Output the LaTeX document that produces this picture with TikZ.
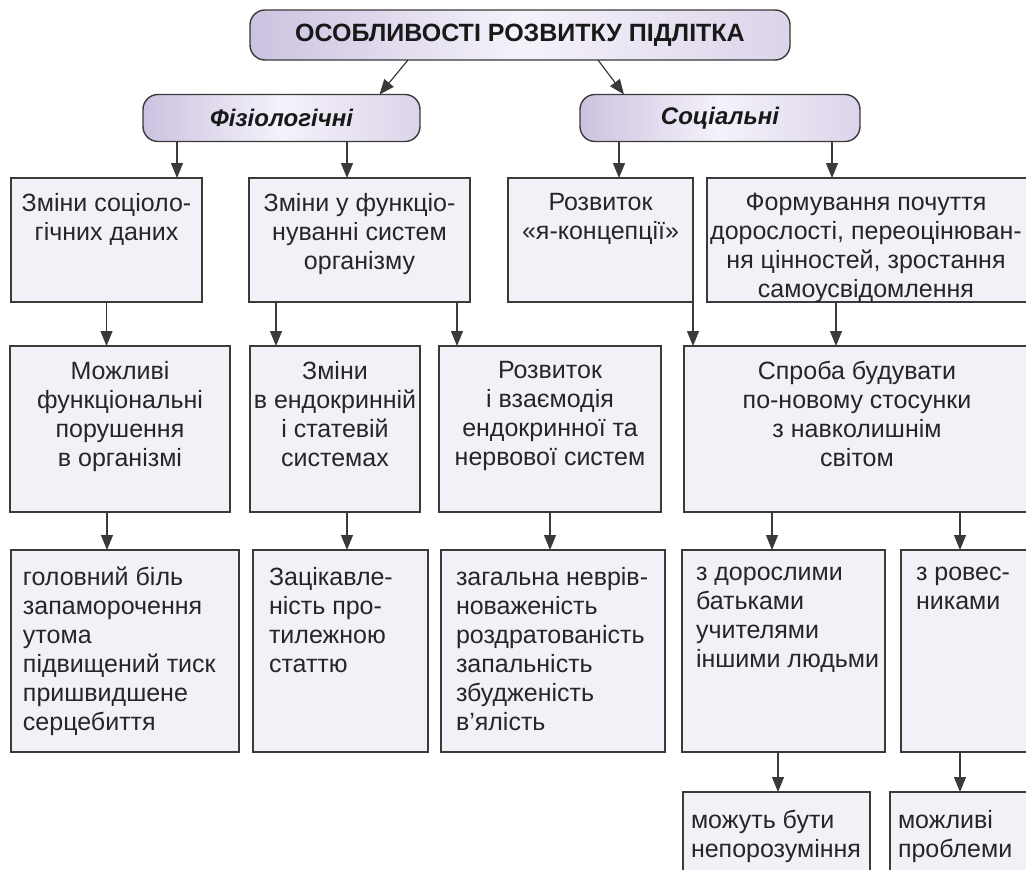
\documentclass[tikz,border=0pt]{standalone}
\usepackage{fontspec}
\setmainfont{Liberation Sans}
\usetikzlibrary{arrows.meta}
\definecolor{cellfill}{HTML}{F3F1F8}
\definecolor{framegray}{HTML}{3A3A3A}
\definecolor{headdark}{HTML}{CCC2E0}
\definecolor{headlight}{HTML}{F5F2FA}
\definecolor{headmid}{HTML}{DCD4EA}
\begin{document}
\begin{tikzpicture}[x=1pt,y=-1pt,
	every node/.style={inner sep=0pt,outer sep=0pt},
	cell/.style={draw=framegray,line width=1.4pt,fill=cellfill,anchor=north west},
	head/.style={draw=framegray,line width=1.4pt,rounded corners=15pt,
		left color=headdark,right color=headmid,middle color=headlight,
		text=black!90},
	ctext/.style={anchor=north,align=center,text=black!85,
		font=\fontsize{25}{29}\selectfont,execute at begin node=\strut},
	ltext/.style={anchor=north west,align=left,text=black!85,
		font=\fontsize{25}{29}\selectfont,execute at begin node=\strut},
	arr/.style={draw=framegray,line width=1.2pt,-{Triangle[length=15pt,width=12pt]}}]
\useasboundingbox (0,0) rectangle (1026,870);
\clip (0,0) rectangle (1026,870);
\fill[white] (0,0) rectangle (1026,870);

% headings
\node[head,minimum width=540,minimum height=50,font=\bfseries\fontsize{25}{29}\selectfont] (t) at (520,35) {ОСОБЛИВОСТІ РОЗВИТКУ ПІДЛІТКА};
\node[head,minimum width=277,minimum height=47,font=\bfseries\itshape\fontsize{24}{28}\selectfont] (phys) at (281.5,118) {Фізіологічні};
\node[head,minimum width=280,minimum height=47,font=\bfseries\itshape\fontsize{24}{28}\selectfont] (soc) at (720,118) {Соціальні};

% second row
\node[cell,minimum width=191,minimum height=124] (b1) at (11,178) {};
\node[cell,minimum width=221,minimum height=124] (b2) at (249,178) {};
\node[cell,minimum width=185,minimum height=124] (b3) at (508,178) {};
\node[cell,minimum width=330,minimum height=124] (b4) at (707,178) {};
\node[ctext] (b1t) at ([yshift=-15]b1.north) {Зміни соціоло-\\гічних даних};
\node[ctext] (b2t) at ([yshift=-15]b2.north) {Зміни у функціо-\\нуванні систем\\організму};
\node[ctext] (b3t) at ([yshift=-15]b3.north) {Розвиток\\«я-концепції»};
\node[ctext] (b4t) at ([xshift=159,yshift=-15]b4.north west) {Формування почуття\\дорослості, переоцінюван-\\ня цінностей, зростання\\самоусвідомлення};

% third row
\node[cell,minimum width=220,minimum height=166] (b5) at (10,346) {};
\node[cell,minimum width=170,minimum height=166] (b6) at (250,346) {};
\node[cell,minimum width=222,minimum height=166] (b7) at (439,346) {};
\node[cell,minimum width=350,minimum height=166] (b8) at (684,346) {};
\node[ctext] (b5t) at ([yshift=-15]b5.north) {Можливі\\функціональні\\порушення\\в організмі};
\node[ctext] (b6t) at ([yshift=-15]b6.north) {Зміни\\в ендокринній\\і статевій\\системах};
\node[ctext] (b7t) at ([yshift=-15]b7.north) {Розвиток\\і взаємодія\\ендокринної та\\нервової систем};
\node[ctext] (b8t) at ([xshift=173,yshift=-15]b8.north west) {Спроба будувати\\по-новому стосунки\\з навколишнім\\світом};

% fourth row
\node[cell,minimum width=228,minimum height=202] (b9) at (11,550) {};
\node[cell,minimum width=175,minimum height=202] (b10) at (253,550) {};
\node[cell,minimum width=224,minimum height=202] (b11) at (441,550) {};
\node[cell,minimum width=203,minimum height=202] (b12) at (682,550) {};
\node[cell,minimum width=135,minimum height=202] (b13) at (901,550) {};
\node[ltext] (b9t) at ([xshift=12,yshift=-17]b9.north west) {головний біль\\запаморочення\\утома\\підвищений тиск\\пришвидшене\\серцебиття};
\node[ltext] (b10t) at ([xshift=16,yshift=-17]b10.north west) {Зацікавле-\\ність про-\\тилежною\\статтю};
\node[ltext] (b11t) at ([xshift=15,yshift=-17]b11.north west) {загальна неврів-\\новаженість\\роздратованість\\запальність\\збудженість\\в’ялість};
\node[ltext] (b12t) at ([xshift=14,yshift=-17]b12.north west) {з дорослими\\батьками\\учителями\\іншими людьми};
\node[ltext] (b13t) at ([xshift=15,yshift=-17]b13.north west) {з ровес-\\никами};

% fifth row
\node[cell,minimum width=187,minimum height=120] (b14) at (683,792) {};
\node[cell,minimum width=145,minimum height=120] (b15) at (890,792) {};
\node[ltext] (b14t) at ([xshift=8,yshift=-18]b14.north west) {можуть бути\\непорозуміння};
\node[ltext] (b15t) at ([xshift=8,yshift=-18]b15.north west) {можливі\\проблеми};

% arrows
\draw[arr] ([xshift=-112]t.south) -- ([xshift=98]phys.north);
\draw[arr] ([xshift=78]t.south) -- ([xshift=-96]soc.north);
\draw[arr] ([xshift=-104.5]phys.south) -- ([xshift=-104.5]phys.south |- b1.north);
\draw[arr] ([xshift=65.5]phys.south) -- ([xshift=65.5]phys.south |- b2.north);
\draw[arr] ([xshift=-101]soc.south) -- ([xshift=-101]soc.south |- b3.north);
\draw[arr] ([xshift=112]soc.south) -- ([xshift=112]soc.south |- b4.north);
\draw[arr] (b1.south) -- (b1.south |- b5.north);
\draw[arr] ([xshift=-83.5]b2.south) -- ([xshift=-83.5]b2.south |- b6.north);
\draw[arr] ([xshift=97.5]b2.south) -- ([xshift=97.5]b2.south |- b7.north);
\draw[arr] (b3.south east) -- (b3.south east |- b8.north);
\draw[arr] ([xshift=129]b4.south west) -- ([xshift=129]b4.south west |- b8.north);
\draw[arr] ([xshift=-13]b5.south) -- ([xshift=-13]b5.south |- b9.north);
\draw[arr] ([xshift=12]b6.south) -- ([xshift=12]b6.south |- b10.north);
\draw[arr] (b7.south) -- (b7.south |- b11.north);
\draw[arr] ([xshift=88]b8.south west) -- ([xshift=88]b8.south west |- b12.north);
\draw[arr] ([xshift=276]b8.south west) -- ([xshift=276]b8.south west |- b13.north);
\draw[arr] ([xshift=-5.5]b12.south) -- ([xshift=-5.5]b12.south |- b14.north);
\draw[arr] ([xshift=59]b13.south west) -- ([xshift=59]b13.south west |- b15.north);
\end{tikzpicture}
\end{document}
